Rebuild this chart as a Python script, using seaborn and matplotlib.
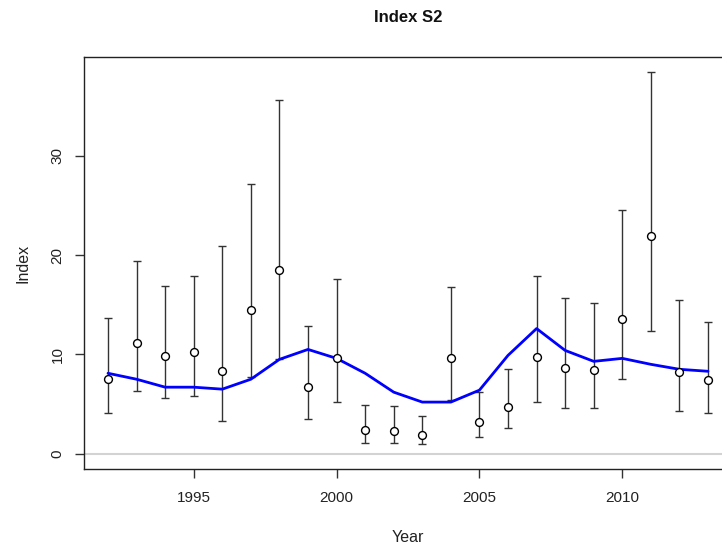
import numpy as np
import pandas as pd
import matplotlib
matplotlib.use("Agg")
import matplotlib.pyplot as plt
import seaborn as sns

years = list(range(1992, 2014))
index_obs = [7.5, 11.1, 9.8, 10.2, 8.3, 14.5, 18.5, 6.7, 9.6, 2.4, 2.3,
             1.9, 9.6, 3.2, 4.7, 9.7, 8.6, 8.4, 13.6, 21.9, 8.2, 7.4]
ci_upper = [13.7, 19.4, 16.9, 17.9, 20.9, 27.2, 35.6, 12.9, 17.6, 4.9, 4.8,
            3.8, 16.8, 6.2, 8.5, 17.9, 15.7, 15.2, 24.5, 38.4, 15.5, 13.3]
ci_lower = [4.1, 6.3, 5.6, 5.8, 3.3, 7.7, 9.5, 3.5, 5.2, 1.1, 1.1,
            0.95, 5.4, 1.7, 2.6, 5.2, 4.6, 4.6, 7.5, 12.4, 4.3, 4.1]
index_fit = [8.1, 7.5, 6.7, 6.7, 6.5, 7.5, 9.5, 10.5, 9.6, 8.1, 6.2,
             5.2, 5.2, 6.4, 9.9, 12.6, 10.4, 9.3, 9.6, 9.0, 8.5, 8.3]
x_ticks = [1995, 2000, 2005, 2010]
y_ticks = [0, 10, 20, 30]

df = pd.DataFrame({"Year": years, "Obs": index_obs, "Up": ci_upper,
                   "Lo": ci_lower, "Fit": index_fit})

sns.set_theme(style="ticks")
plt.rcParams["font.family"] = ["Liberation Sans", "DejaVu Sans"]

fig = plt.figure(figsize=(7.22, 5.51), dpi=100)
ax = fig.add_axes([84 / 722, (551 - 469) / 551, (732 - 84) / 722, (469 - 57) / 551])

ax.axhline(0, color="#d3d3d3", lw=1.5, zorder=1)
ax.errorbar(df["Year"], df["Obs"],
            yerr=[df["Obs"] - df["Lo"], df["Up"] - df["Obs"]],
            fmt="none", ecolor="#333333", elinewidth=1.0, capsize=3, capthick=1.0, zorder=2)
sns.lineplot(data=df, x="Year", y="Fit", color="#0000ff", lw=2.0, ax=ax, zorder=3)
sns.scatterplot(data=df, x="Year", y="Obs", color="white", edgecolor="black",
                linewidth=1.0, s=32, ax=ax, zorder=4)

xmin, xmax = min(years), max(years)
xp = 0.04 * (xmax - xmin)
ax.set_xlim(xmin - xp, xmax + xp)
ymin, ymax = 0, max(ci_upper)
yp = 0.04 * (ymax - ymin)
ax.set_ylim(ymin - yp, ymax + yp)

ax.set_xticks(x_ticks)
ax.set_yticks(y_ticks)
ax.set_xticklabels([str(t) for t in x_ticks], fontsize=11)
ax.set_yticklabels([str(t) for t in y_ticks], fontsize=11, rotation=90, va="center")
ax.tick_params(axis="both", length=6.5, width=1, color="#333333", labelcolor="#222222")
ax.tick_params(axis="x", pad=9)
ax.tick_params(axis="y", pad=7.5)

for s in ax.spines.values():
    s.set_color("#222222")
    s.set_linewidth(1.0)

ax.set_xlabel("Year", fontsize=11.5, labelpad=18, color="#222222")
ax.set_ylabel("Index", fontsize=11.5, labelpad=14.5, color="#222222")
fig.text(408 / 722, 1 - 18 / 551, "Index S2", ha="center", va="center",
         fontsize=12, fontweight="bold", color="#111111")

fig.savefig("out.png", dpi=100)
